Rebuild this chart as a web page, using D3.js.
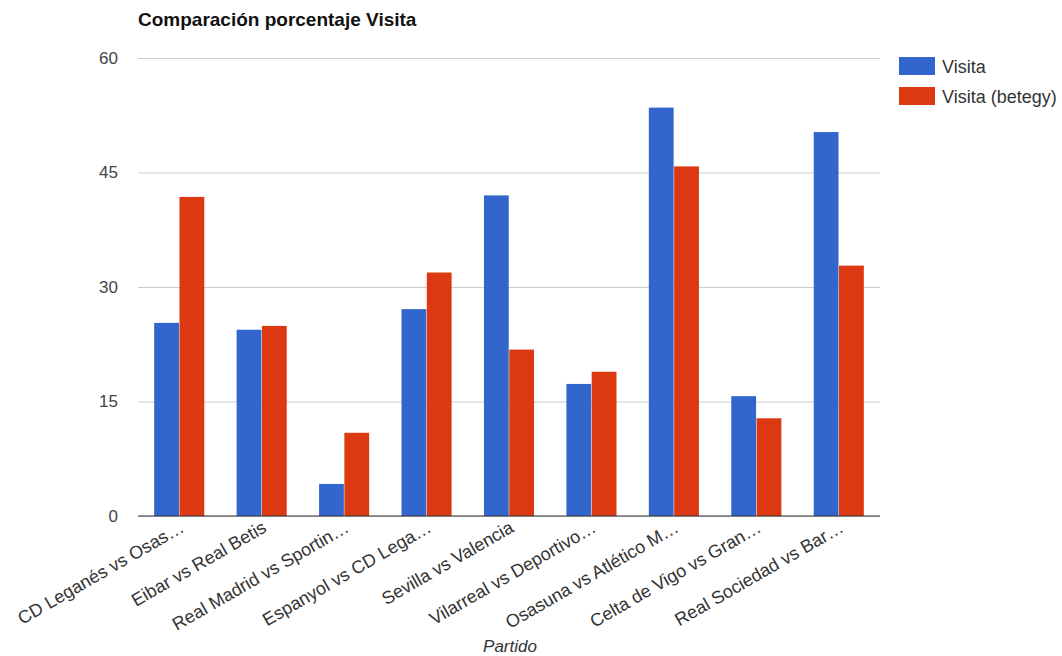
<!DOCTYPE html>
<html>
<head>
<meta charset="utf-8">
<script src="https://cdn.jsdelivr.net/npm/d3@7.9.0/dist/d3.min.js"></script>
<style>
  body { margin: 0; background: #fff; }
  svg { font-family: "Liberation Sans", Arial, sans-serif; }
</style>
</head>
<body>
<svg id="chart" width="1062" height="656"></svg>
<script>
// partidos (etiquetas ya recortadas como en el original)
const partidos = [
  'CD Leganés vs Osas…',
  'Eibar vs Real Betis',
  'Real Madrid vs Sportin…',
  'Espanyol vs CD Lega…',
  'Sevilla vs Valencia',
  'Vilarreal vs Deportivo…',
  'Osasuna vs Atlético M…',
  'Celta de Vigo vs Gran…',
  'Real Sociedad vs Bar…'
];
const visita = [25.3, 24.4, 4.2, 27.1, 42.0, 17.3, 53.5, 15.7, 50.3];
const visitaBetegy = [41.8, 24.9, 10.9, 31.9, 21.8, 18.9, 45.8, 12.8, 32.8];
const seriesNames = ['Visita', 'Visita (betegy)'];
const yTicks = [0, 15, 30, 45, 60];

const colors = d3.scaleOrdinal().domain(seriesNames).range(['#3366cc', '#dc3912']);

const svg = d3.select('#chart');
const margin = { top: 58, right: 182, bottom: 140, left: 138 };
const width = 1062 - margin.left - margin.right;
const height = 656 - margin.top - margin.bottom;

const g = svg.append('g').attr('transform', `translate(${margin.left},${margin.top})`);

const x0 = d3.scaleBand().domain(partidos).range([0, width]).paddingInner(0.38).paddingOuter(0.19);
const x1 = d3.scaleBand().domain(seriesNames).range([0, x0.bandwidth()]).padding(0.02);
const y = d3.scaleLinear().domain([0, 60]).range([height, 0]);

// title
svg.append('text')
  .attr('x', 138).attr('y', 26)
  .attr('font-size', 19).attr('font-weight', 'bold').attr('fill', '#111')
  .text('Comparación porcentaje Visita');

// gridlines + y labels
const yAxis = g.append('g')
  .call(d3.axisLeft(y).tickValues(yTicks).tickSize(-width).tickPadding(20));
yAxis.select('.domain').remove();
yAxis.selectAll('.tick line').attr('stroke', '#cccccc');
yAxis.selectAll('.tick text').attr('font-size', 17).attr('fill', '#444');

// bars
const rows = partidos.map((p, i) => ({ partido: p, values: [visita[i], visitaBetegy[i]] }));
const groups = g.selectAll('.grupo').data(rows).join('g')
  .attr('class', 'grupo')
  .attr('transform', d => `translate(${x0(d.partido)},0)`);

groups.selectAll('rect')
  .data(d => d.values.map((v, k) => ({ serie: seriesNames[k], v })))
  .join('rect')
  .attr('x', d => x1(d.serie))
  .attr('width', x1.bandwidth())
  .attr('y', d => y(d.v))
  .attr('height', d => height - y(d.v))
  .attr('fill', d => colors(d.serie));

// baseline
g.append('line')
  .attr('x1', 0).attr('x2', width)
  .attr('y1', height).attr('y2', height)
  .attr('stroke', '#333');

// x labels
const xAxis = g.append('g').attr('transform', `translate(0,${height})`)
  .call(d3.axisBottom(x0).tickSize(0).tickPadding(0));
xAxis.select('.domain').remove();
xAxis.selectAll('.tick text')
  .attr('font-size', 18).attr('fill', '#333')
  .attr('text-anchor', 'end')
  .attr('dy', 0)
  .attr('transform', 'translate(6,15) rotate(-30)');

// axis title
svg.append('text')
  .attr('x', 510).attr('y', 652)
  .attr('text-anchor', 'middle')
  .attr('font-size', 17).attr('font-style', 'italic').attr('fill', '#333')
  .text('Partido');

// legend
const legend = svg.append('g').attr('transform', 'translate(899,57)');
const item = legend.selectAll('g').data(seriesNames).join('g')
  .attr('transform', (d, i) => `translate(0,${i * 30})`);
item.append('rect').attr('width', 36).attr('height', 18).attr('fill', d => colors(d));
item.append('text')
  .attr('x', 43).attr('y', 16)
  .attr('font-size', 18).attr('fill', '#333')
  .text(d => d);
</script>
</body>
</html>
